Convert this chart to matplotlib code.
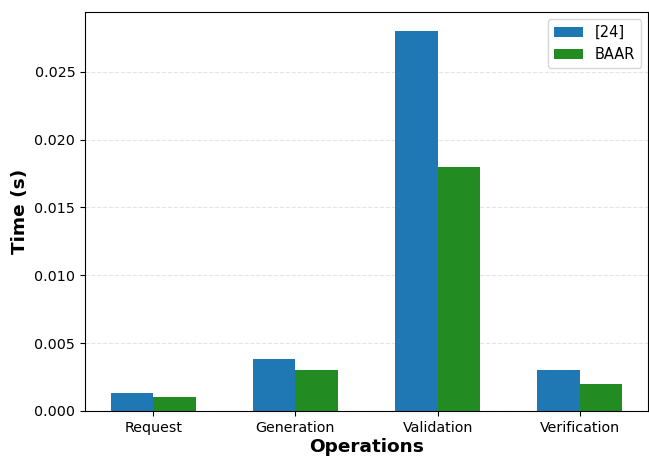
import matplotlib
matplotlib.use("Agg")
import matplotlib.pyplot as plt
import numpy as np

operations = ["Request", "Generation", "Validation", "Verification"]
ref24_times = [0.0013, 0.0038, 0.028, 0.003]
baar_times = [0.001, 0.003, 0.018, 0.002]
series_names = ["[24]", "BAAR"]

fig = plt.figure(figsize=(6.49, 4.57), dpi=100)
ax = fig.add_axes([85 / 649, 1 - 411 / 457, 563 / 649, 399 / 457])

x = np.arange(len(operations))
width = 0.3
ax.bar(x - width / 2, ref24_times, width, color="#1f77b4", label=series_names[0])
ax.bar(x + width / 2, baar_times, width, color="forestgreen", label=series_names[1])

ax.set_xticks(x)
ax.set_xticklabels(operations, fontsize=10.3)
ax.tick_params(axis="y", labelsize=10.3)
ax.set_xlabel("Operations", fontsize=13.3, fontweight="bold", labelpad=2)
ax.set_ylabel("Time (s)", fontsize=13.3, fontweight="bold")
ax.yaxis.grid(True, linestyle="--", alpha=0.5, color="#cccccc")
ax.set_axisbelow(True)
ax.legend(loc="upper right", fontsize=10.5)

fig.savefig("out.png", dpi=100)
